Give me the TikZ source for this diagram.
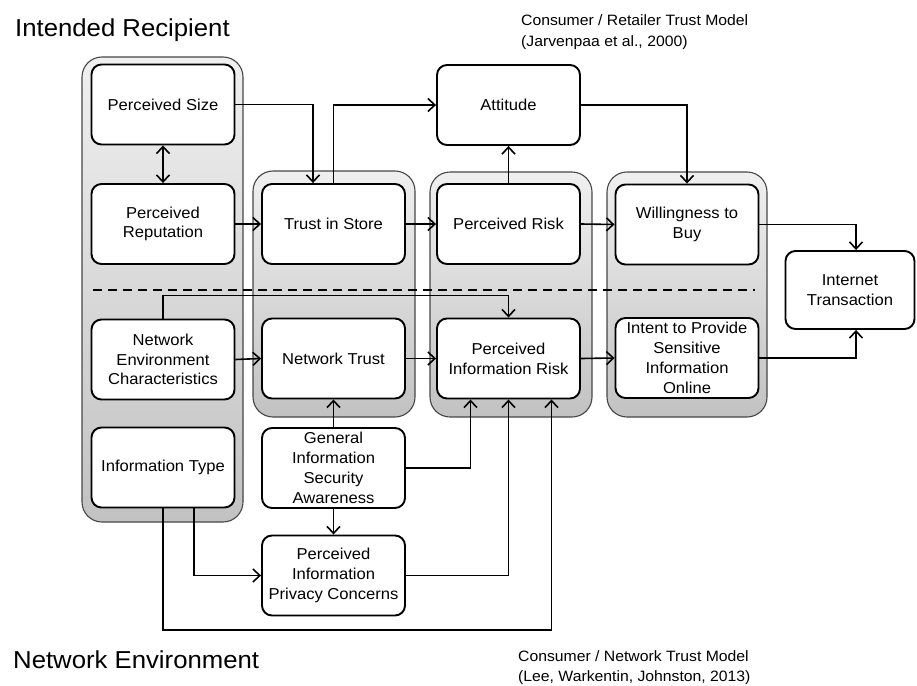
\documentclass[tikz,border=0pt]{standalone}
\usepackage{fontspec}
\setmainfont{Liberation Sans}[FakeStretch=1.05]
\usetikzlibrary{arrows.meta,calc}
\begin{document}
\begin{tikzpicture}[x=1pt,y=-1pt,
  boxnode/.style={draw=black,fill=white,line width=1.9pt,rounded corners=10pt,
    minimum width=143pt,minimum height=80pt,align=center,inner sep=1pt,
    font=\fontsize{15.8}{19.8}\selectfont},
  grp/.style={draw=gray!55!black,line width=1.1pt,rounded corners=20pt,
    top color=gray!12,bottom color=gray!48},
  arr/.style={line width=1.6pt,-{Straight Barb[length=7pt,width=13pt]}},
  arrb/.style={line width=1.6pt,{Straight Barb[length=7pt,width=13pt]}-{Straight Barb[length=7pt,width=13pt]}},
  hdr/.style={anchor=base west,inner sep=0pt,font=\fontsize{24.5}{28}\selectfont},
  captxt/.style={anchor=base west,inner sep=0pt,font=\fontsize{15}{19}\selectfont}]
\useasboundingbox (0,0) rectangle (917,685);
% groups
\draw[grp] (82,57) rectangle (243,522);
\draw[grp] (253,171) rectangle (415,417);
\draw[grp] (430,172) rectangle (592,417);
\draw[grp] (607,172) rectangle (767,417);
% dashed separator
\coordinate (dl) at (93,290);
\coordinate (dr) at (755,290);
\draw[line width=1.7pt,dash pattern=on 9pt off 6pt] (dl) -- (dr);
% nodes
\node[boxnode] (PS) at (163,104.5) {Perceived Size};
\node[boxnode] (PRep) at (163,224) {Perceived\\Reputation};
\node[boxnode] (NEC) at (163,359.5) {Network\\Environment\\Characteristics};
\node[boxnode] (IT) at (163,467.5) {Information Type};
\node[boxnode] (TiS) at (333.5,224) {Trust in Store};
\node[boxnode] (NT) at (333.5,358.5) {Network Trust};
\node[boxnode] (GISA) at (333.5,468) {General\\Information\\Security\\Awareness};
\node[boxnode] (PIPC) at (333.5,575.5) {Perceived\\Information\\Privacy Concerns};
\node[boxnode] (Att) at (508.5,105) {Attitude};
\node[boxnode] (PRisk) at (508.5,224) {Perceived Risk};
\node[boxnode] (PIR) at (508.5,358.5) {Perceived\\Information Risk};
\node[boxnode] (WtB) at (687,224.5) {Willingness to\\Buy};
\node[boxnode] (Int) at (687,358) {Intent to Provide\\Sensitive\\Information\\Online};
\node[boxnode,minimum width=129pt,minimum height=78pt] (ITr) at (850,290) {Internet\\Transaction};
% connectors
\draw[arrb] (PS.south) -- (PRep.north);
\draw[arr] (PS.east) -| ([xshift=-20.5pt]TiS.north);
\draw[arr] (TiS.north) |- (Att.west);
\draw[arr] (PRep.east) -- (TiS.west);
\draw[arr] (TiS.east) -- (PRisk.west);
\draw[arr] (PRisk.east) -- (WtB.west);
\draw[arr] (PRisk.north) -- (Att.south);
\draw[arr] (Att.east) -| (WtB.north);
\draw[arr] (WtB.east) -| ([xshift=6pt]ITr.north);
\draw[arr] (Int.east) -| ([xshift=6pt]ITr.south);
\draw[arr] (NEC.east) -- (NT.west);
\draw[arr] (NT.east) -- (PIR.west);
\draw[arr] (PIR.east) -- (Int.west);
\draw[arr] (NEC.north) -- ++(0,-23) -| (PIR.north);
\draw[arr] (GISA.north) -- (NT.south);
\draw[arr] (GISA.east) -| ([xshift=-38pt]PIR.south);
\draw[arr] (GISA.south) -- (PIPC.north);
\draw[arr] (PIPC.east) -| (PIR.south);
\draw[arr] ([xshift=31pt]IT.south) |- (PIPC.west);
\draw[arr] (IT.south) -- ++(0,121.5) -| ([xshift=43pt]PIR.south);
% titles
\node[hdr] (h1) at (15,37) {Intended Recipient};
\node[hdr] (h2) at (13,668) {Network Environment};
\node[captxt] (c1) at (521,26) {Consumer / Retailer Trust Model};
\node[captxt] (c2) at (521,46) {(Jarvenpaa et al., 2000)};
\node[captxt] (c3) at (518,661) {Consumer / Network Trust Model};
\node[captxt] (c4) at (518,681) {(Lee, Warkentin, Johnston, 2013)};
\end{tikzpicture}
\end{document}
